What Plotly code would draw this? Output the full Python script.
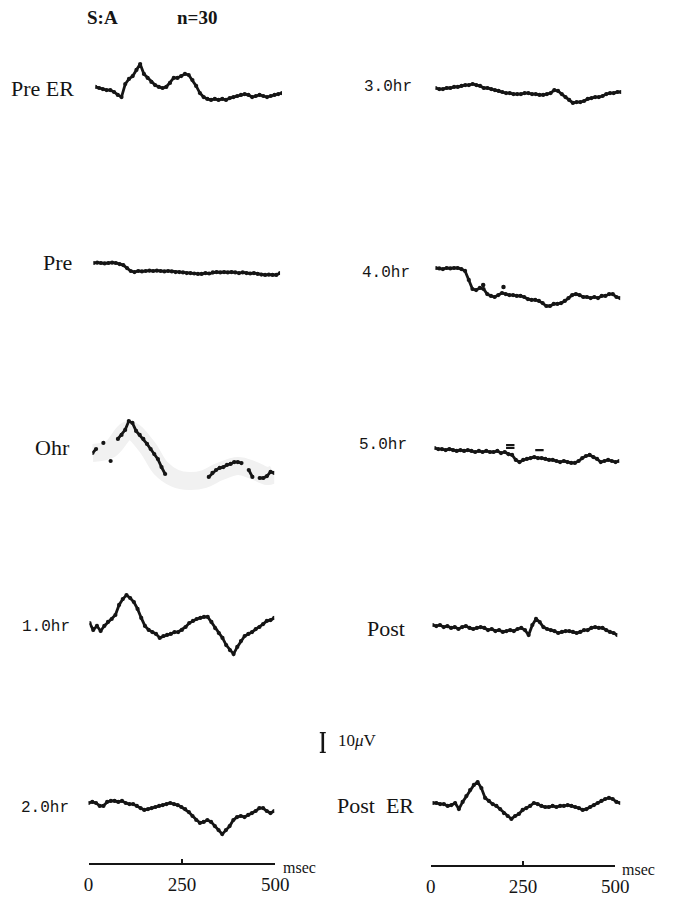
import plotly.graph_objects as go

# ---- data (µV, sampled every 10 ms from 0 to 500 ms) ----
t_ms = list(range(0, 501, 10))

pre_er = [0.5, 0, -0.5, -1, -1, -1.9, -3.3, -4.3, 1.9, 4.3,
          5.7, 8.6, 11.4, 6.7, 4.8, 2.9, 1.4, 0.5, 0, 0.5,
          2.4, 4.8, 4.8, 5.7, 6.7, 6.2, 3.8, 1, -2.4, -4.3,
          -5.2, -5.7, -5.2, -5.7, -5.2, -5.7, -4.8, -4.3, -3.8, -3.3,
          -2.9, -3.3, -4.3, -3.8, -3.3, -3.8, -4.3, -3.8, -3.3, -2.9,
          -2.4]

pre = [0, 0.2, 0, -0.2, 0, 0.2, 0, -0.5, -1, -2.4,
       -3.8, -4.3, -3.8, -4, -3.8, -3.6, -3.8, -3.6, -3.8, -4,
       -3.8, -4, -4.3, -4.3, -4.5, -4.8, -4.8, -5, -5.2, -5.2,
       -4.8, -5, -4.5, -4.3, -4.5, -4.3, -4.5, -4.3, -4.5, -4.8,
       -4.5, -4.8, -5, -4.8, -5.2, -5.5, -5.7, -5.5, -5.7, -5.7,
       -4.8]

ohr = [0, 1.9, None, 4.8, None, -3.8, None, 6.7, 8.6, 11,
       15.2, 14.3, 10.5, 8.6, 6.7, 4.3, 1.9, -0.5, -2.9, -6.7,
       -10, None, None, None, None, None, None, None, None, None,
       None, None, -11.4, -9.5, -8.1, -7.1, -6.7, -5.7, -5.2, -4.3,
       -4.3, -4.8, None, -8.1, -11.4, None, -11.9, -11.9, -11, -9,
       -9.5]

# faint smudge along the 0hr record
ohr_smudge_t = [0, 50, 100, 150, 187, 227, 267, 307, 348, 401, 441, 481, 500]
ohr_smudge_v = [0, 2, 11, 3, -7, -12, -13.3, -12.4, -9, -6.2, -8.1, -11, -10]

one_hr = [0, -3.3, -1.4, -3.8, -1.4, 0.5, 1.9, 3.8, 8.6, 11.4,
          13.3, 11.9, 10, 6.7, 2.4, -1.4, -3.3, -4.3, -5.2, -7.1,
          -6.2, -5.7, -5.2, -4.3, -4.3, -3.3, -1.9, 0, 1, 1.9,
          2.4, 2.9, 2.9, 0.5, -2.4, -4.8, -7.1, -10.5, -12.9, -14.8,
          -11.4, -8.6, -6.2, -5.2, -4.3, -2.9, -1.9, -0.5, 1, 1.4,
          2.4]

two_hr = [0, 0.5, 0, -1.4, -1.4, 0.5, 1, 1, 0.5, 1,
          0, -0.5, -0.5, -1.4, -2.4, -3.3, -2.9, -2.4, -1.9, -1.4,
          -1, -0.5, 0, -0.5, -1, -1.9, -2.9, -4.3, -6.2, -8.1,
          -9.5, -9, -8.1, -9, -11, -12.9, -14.8, -12.9, -11, -8.1,
          -6.7, -6.2, -6.7, -5.7, -4.8, -3.8, -2.4, -2.4, -3.8, -4.8,
          -3.8]

three_hr = [0, -0.5, -0.5, 0, 0, 0.5, 0.5, 1, 1.4, 1.4,
            1.9, 1.4, 1, 0, 0, -0.5, -1, -1.4, -1.9, -2.4,
            -2.4, -2.9, -2.9, -2.9, -2.4, -2.4, -2.9, -2.9, -3.3, -3.3,
            -2.9, -2.4, -1, -1.4, -2.9, -4.3, -5.7, -7.1, -6.7, -6.7,
            -6.2, -5.2, -4.8, -4.3, -4.3, -3.8, -2.9, -2.4, -2.4, -1.9,
            -1.9]

four_hr = [0, -0.2, -0.5, 0, -0.2, 0, 0, -0.5, -1.4, -5.7,
           -10, -10.5, -9.5, -10, -12.4, -13.3, -13.8, -12.9, -11.9, -12.4,
           -12.9, -12.9, -13.3, -13.3, -13.8, -14.8, -15.2, -15.2, -15.7, -16.7,
           -18.1, -18.1, -17.1, -17.1, -16.7, -15.7, -14.3, -12.9, -12.4, -12.9,
           -13.8, -13.8, -14.3, -13.8, -14.3, -13.3, -13.3, -12.4, -12.4, -13.8,
           -14.3]
four_hr_art_t = [129, 184]
four_hr_art_v = [-8.1, -9]

five_hr = [0, -0.5, -0.5, -1, -0.5, -1, -1.4, -1, -1.4, -1,
           -1.4, -1.9, -1.4, -1.9, -1.4, -1.9, -1.9, -1.4, -2.4, -1.9,
           -2.9, -3.3, -5.7, -6.7, -5.7, -5.2, -4.8, -4.3, -4.8, -4.8,
           -5.2, -5.7, -5.7, -6.2, -6.7, -6.2, -6.7, -7.1, -7.1, -6.2,
           -4.8, -3.8, -3.3, -4.3, -5.2, -6.7, -6.2, -5.7, -6.2, -6.7,
           -6.2]
five_hr_art_t = [205, 205, 284]
five_hr_art_v = [1.4, 0, -1]

post = [0, -0.5, 0, -1, -0.5, -1.4, -1, -1.9, -1, -0.5,
        -1.4, -1.9, -1.4, -1, -1.4, -2.4, -1.9, -2.9, -2.4, -3.3,
        -2.9, -2.4, -2.9, -1.9, -1.4, -2.4, -4.8, 0, 2.9, 1.4,
        -1, -1.9, -2.4, -2.9, -3.8, -3.3, -2.9, -2.9, -3.3, -3.8,
        -3.3, -2.4, -2.4, -1.4, -1, -1.4, -1.4, -2.4, -3.3, -3.8,
        -4.8]

post_er = [0, 0, -0.5, -0.5, -1.4, -1, 0, -2.9, 0.5, 3.3,
           6.2, 8.6, 10, 7.1, 2.4, 1, -0.5, -1.4, -2.9, -4.8,
           -6.2, -7.6, -6.2, -5.2, -3.3, -2.4, -1.4, 0, -0.5, -1.4,
           -1.9, -1.9, -1.4, -1.9, -1.4, -1.4, -1, -1.4, -1.9, -2.4,
           -3.3, -2.9, -1.9, -1, 0, 1, 1.9, 2.4, 1.9, 0.5,
           0]

labels = ["Pre ER", "Pre", "Ohr", "1.0hr", "2.0hr",
          "3.0hr", "4.0hr", "5.0hr", "Post", "Post ER"]
label_text = ["Pre ER", "Pre", "Ohr", "1.0hr", "2.0hr",
              "3.0hr", "4.0hr", "5.0hr", "Post", "Post\u00a0\u00a0ER"]
series = [pre_er, pre, ohr, one_hr, two_hr,
          three_hr, four_hr, five_hr, post, post_er]

scale_ticks = [0, 250, 500]
scale_text = ["0", "250", "500"]
calib_uv = 10

# ---- page geometry (pixels) ----
W, H = 675, 897
UV_HALF = 20          # each record panel spans -20..+20 µV
PX_PER_UV = 2.1
HALF_PX = UV_HALF * PX_PER_UV

# (baseline y, x start, x end, label y, label right edge)
panel_geom = [
    (88, 93, 285, 88, 73),
    (263, 91, 283, 262, 71),
    (453, 90, 277, 447, 69),
    (623, 87, 277, 627, 69),
    (803, 86, 277, 808, 68),
    (88, 443, 634, 87, 421),
    (268, 443, 633, 273, 419),
    (448, 442, 632, 445, 416),
    (625, 440, 630, 628, 414),
    (803, 440, 633, 805, 423),
]
mono_labels = {"1.0hr", "2.0hr", "3.0hr", "4.0hr", "5.0hr"}


def px(x):
    return x / W


def py(y):
    return 1 - y / H


INK = "#151515"
SERIF = "Liberation Serif"
MONO = "Liberation Mono"

fig = go.Figure()
layout = dict(
    width=W, height=H, autosize=False,
    margin=dict(l=0, r=0, t=0, b=0, pad=0),
    paper_bgcolor="white", plot_bgcolor="rgba(0,0,0,0)",
    showlegend=False,
)
annotations = []

for i, (name, text, vals, geom) in enumerate(zip(labels, label_text, series, panel_geom),
                                             start=1):
    base, x0, x1, ly, lx = geom
    xa, ya = f"x{i}", f"y{i}"
    layout[f"xaxis{i}"] = dict(domain=[px(x0), px(x1)], range=[0, 500],
                               visible=False, anchor=ya, fixedrange=True)
    layout[f"yaxis{i}"] = dict(domain=[py(base + HALF_PX), py(base - HALF_PX)],
                               range=[-UV_HALF, UV_HALF], visible=False,
                               anchor=xa, fixedrange=True)
    if name == "Ohr":
        fig.add_trace(go.Scatter(x=ohr_smudge_t, y=ohr_smudge_v, xaxis=xa, yaxis=ya,
                                 mode="lines", line=dict(color="#f1f1f1", width=18,
                                                         shape="spline"),
                                 hoverinfo="skip"))
    fig.add_trace(go.Scatter(x=t_ms, y=vals, xaxis=xa, yaxis=ya,
                             mode="lines+markers", connectgaps=False,
                             line=dict(color=INK, width=2.8),
                             marker=dict(color=INK, size=4.2),
                             name=name))
    if name == "4.0hr":
        fig.add_trace(go.Scatter(x=four_hr_art_t, y=four_hr_art_v, xaxis=xa, yaxis=ya,
                                 mode="markers", marker=dict(color=INK, size=4.5)))
    if name == "5.0hr":
        fig.add_trace(go.Scatter(x=five_hr_art_t, y=five_hr_art_v, xaxis=xa, yaxis=ya,
                                 mode="markers",
                                 marker=dict(symbol="line-ew", size=6,
                                             line=dict(color=INK, width=2.2))))
    font = dict(family=MONO, size=16, color=INK) if name in mono_labels \
        else dict(family=SERIF, size=22, color=INK)
    annotations.append(dict(text=text, x=px(lx), y=py(ly), xref="paper", yref="paper",
                            xanchor="right", yanchor="middle", showarrow=False,
                            font=font))

# ---- time scale bars under each column ----
for j, (x0, x1, ybar, msec_x) in enumerate([(86, 278, 863, 284), (438, 628, 865, 633)]):
    k = 11 + j
    layout[f"xaxis{k}"] = dict(domain=[px(x0), px(x1)], range=[0, 500], anchor=f"y{k}",
                               showline=True, linecolor=INK, linewidth=2,
                               ticks="inside", ticklen=4, tickwidth=1.5, tickcolor=INK,
                               tickvals=scale_ticks, ticktext=scale_text,
                               tickfont=dict(family=SERIF, size=19, color=INK),
                               ticklabelstandoff=3,
                               showgrid=False, zeroline=False, fixedrange=True)
    layout[f"yaxis{k}"] = dict(domain=[py(ybar), py(ybar) + 0.02], range=[0, 1],
                               visible=False, anchor=f"x{k}", fixedrange=True)
    fig.add_trace(go.Scatter(x=[0, 500], y=[0.5, 0.5], xaxis=f"x{k}", yaxis=f"y{k}",
                             mode="lines", line=dict(width=0), hoverinfo="skip"))
    annotations.append(dict(text="msec", x=px(msec_x), y=py(ybar + 4), xref="paper",
                            yref="paper", xanchor="left", yanchor="middle",
                            showarrow=False, font=dict(family=SERIF, size=16, color=INK)))

# ---- 10 µV calibration bar ----
layout["xaxis13"] = dict(domain=[px(317), px(337)], range=[-1, 1], visible=False,
                         anchor="y13", fixedrange=True)
layout["yaxis13"] = dict(domain=[py(732 + calib_uv * PX_PER_UV), py(732)],
                         range=[0, calib_uv], visible=False, anchor="x13", fixedrange=True)
fig.add_trace(go.Scatter(x=[0], y=[calib_uv / 2], xaxis="x13", yaxis="y13",
                         mode="markers", marker=dict(size=1, opacity=0),
                         error_y=dict(type="constant", value=calib_uv / 2, width=3,
                                      thickness=2.6, color=INK)))
annotations.append(dict(text="10<i>μ</i>V", x=px(341), y=py(740), xref="paper", yref="paper",
                        xanchor="left", yanchor="middle", showarrow=False,
                        font=dict(family=SERIF, size=17, color=INK)))

# ---- header ----
annotations.append(dict(text="<b>S:A</b>", x=px(100), y=py(18), xref="paper", yref="paper",
                        xanchor="center", yanchor="middle", showarrow=False,
                        font=dict(family=SERIF, size=19, color=INK)))
annotations.append(dict(text="<b>n=30</b>", x=px(198), y=py(18), xref="paper", yref="paper",
                        xanchor="center", yanchor="middle", showarrow=False,
                        font=dict(family=SERIF, size=19, color=INK)))

layout["annotations"] = annotations
fig.update_layout(**layout)
fig.write_html("out.html", config={"responsive": False, "displayModeBar": False})
